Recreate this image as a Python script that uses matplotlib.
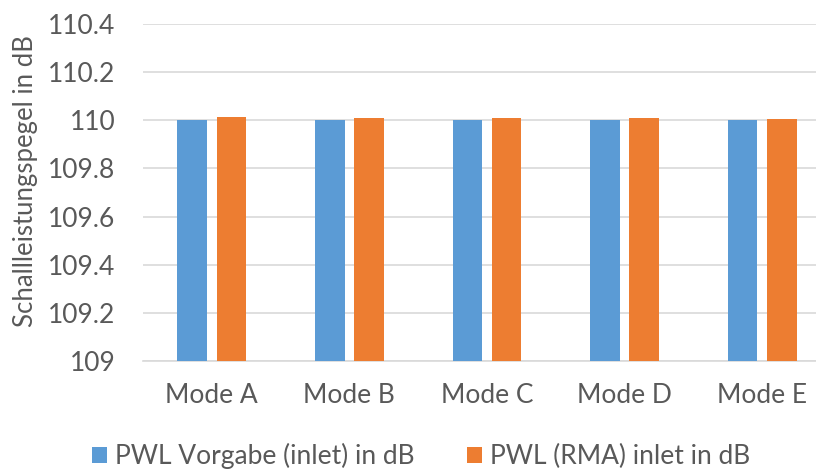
import matplotlib
matplotlib.use("Agg")
import matplotlib.pyplot as plt
import numpy as np

categories = ["Mode A", "Mode B", "Mode C", "Mode D", "Mode E"]
pwl_vorgabe = [110.0, 110.0, 110.0, 110.0, 110.0]
pwl_rma = [110.013, 110.008, 110.008, 110.008, 110.005]
series_names = ["PWL Vorgabe (inlet) in dB", "PWL (RMA) inlet in dB"]
yticks = [109, 109.2, 109.4, 109.6, 109.8, 110, 110.2, 110.4]
ytick_labels = ["109", "109.2", "109.4", "109.6", "109.8", "110", "110.2", "110.4"]

plt.rcParams['font.family'] = ['Lato', 'DejaVu Sans']
gray = "#595959"

fig = plt.figure(figsize=(8.16, 4.71), dpi=100)
W, H = 816, 471
left = 143 / W
width = (831 - 143) / W
bottom = 1 - 361 / H
height = (361 - 24) / H
ax = fig.add_axes([left, bottom, width, height])

x = np.arange(len(categories))
bw = 0.215
off = 0.142
b1 = ax.bar(x - off, pwl_vorgabe, bw, color="#5B9BD5", zorder=3)
b2 = ax.bar(x + off, pwl_rma, bw, color="#ED7D31", zorder=3)

ax.set_xlim(-0.5, 4.5)
ax.set_ylim(109, 110.4)
ax.set_yticks(yticks)
ax.set_yticklabels(ytick_labels)
ax.set_xticks(x)
ax.set_xticklabels(categories)
ax.yaxis.grid(True, color="#d9d9d9", linewidth=1.2, zorder=0)
for s in ["top", "right", "left"]:
    ax.spines[s].set_visible(False)
ax.spines["bottom"].set_color("#d9d9d9")
ax.spines["bottom"].set_linewidth(1.2)
ax.tick_params(axis="both", length=0, colors=gray, labelsize=19)
ax.tick_params(axis="y", pad=20)
ax.tick_params(axis="x", pad=16)
ax.set_ylabel("Schallleistungspegel in dB", color=gray, fontsize=18.5)
ax.yaxis.label.set_va("center")
ax.yaxis.set_label_coords((26 - 143) / 688, (361 - 181.5) / 337)

fig.legend([b1, b2], series_names, loc="center", bbox_to_anchor=(421 / W, 1 - 456 / H),
           ncol=2, frameon=False, fontsize=19, labelcolor=gray,
           handlelength=0.55, handleheight=0.55, handletextpad=0.3, columnspacing=2.0,
           borderpad=0, borderaxespad=0)

fig.savefig("out.png", dpi=100)
